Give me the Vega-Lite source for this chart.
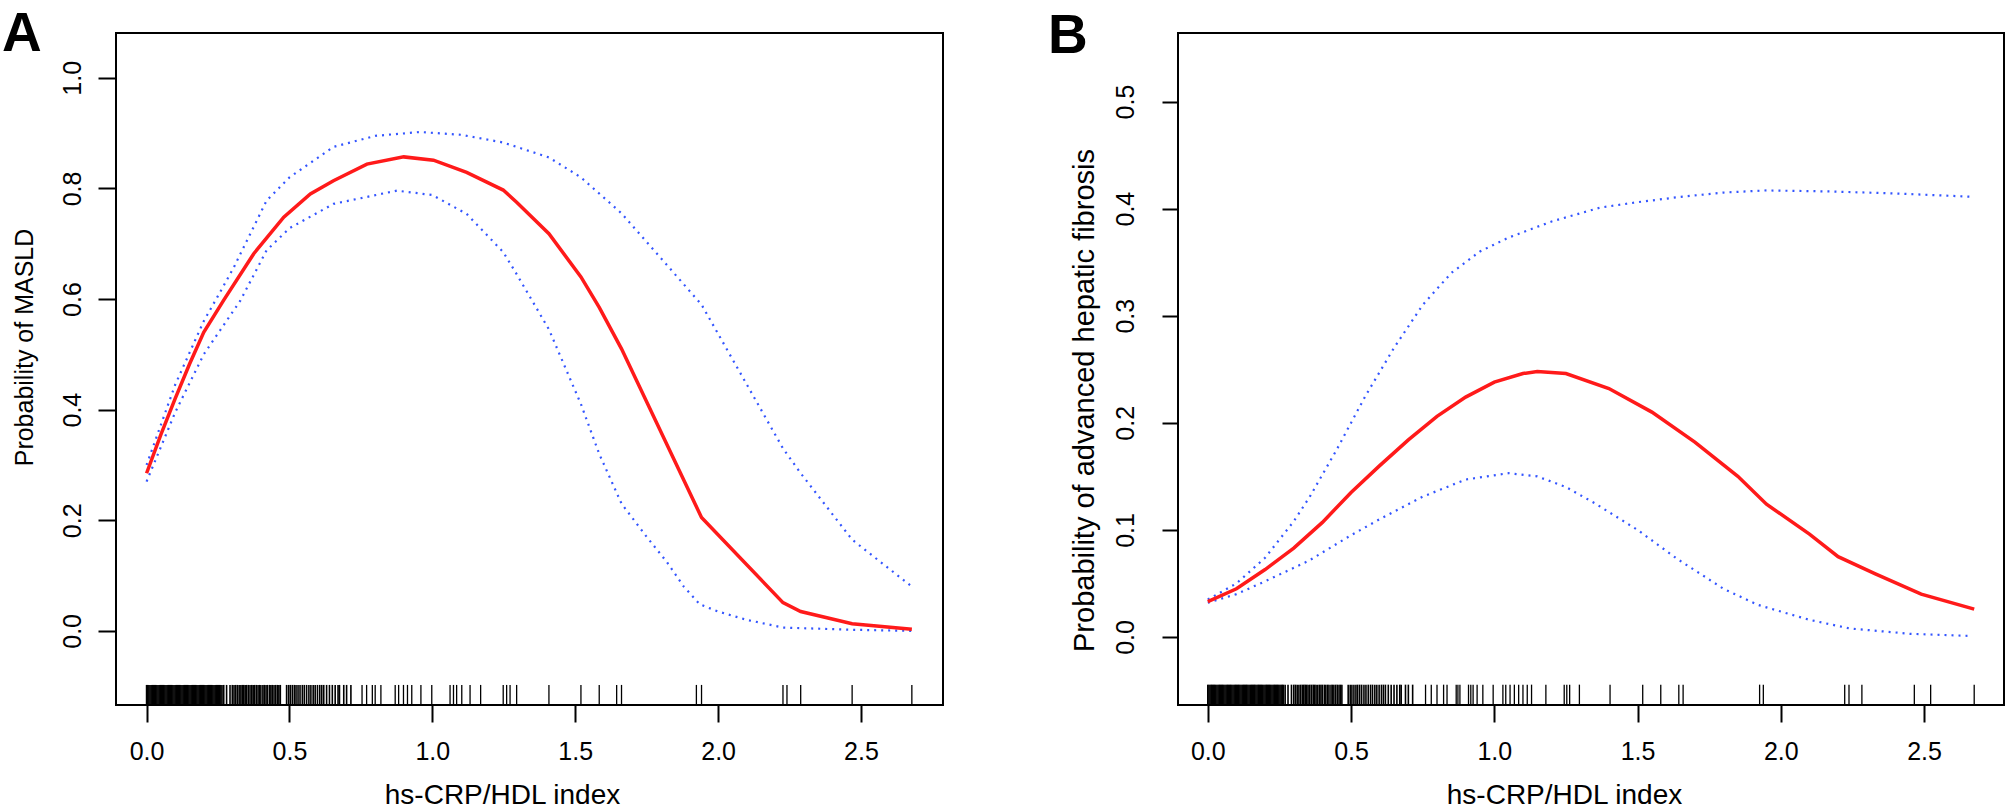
{
"$schema":"https://vega.github.io/schema/vega-lite/v6.json",
"background":"white",
"padding":{"left":1,"top":6,"right":0,"bottom":-2},
"spacing":235,
"bounds":"flush",
"config":{
 "view":{"stroke":"black","strokeWidth":2},
 "axis":{"grid":false,"domain":false,"tickColor":"black","tickWidth":2,"labelColor":"black","titleColor":"black","labelFont":"Liberation Sans","titleFont":"Liberation Sans","labelFontSize":25,"titleFontSize":28,"titleFontWeight":"normal","labelOverlap":false,"labelFlush":false}
},
"datasets":{
 "rugCore":[{"x":0},{"x":0.004},{"x":0.008},{"x":0.012},{"x":0.016},{"x":0.02},{"x":0.024},{"x":0.028},{"x":0.032},{"x":0.036},{"x":0.04},{"x":0.044},{"x":0.048},{"x":0.052},{"x":0.056},{"x":0.06},{"x":0.064},{"x":0.068},{"x":0.072},{"x":0.076},{"x":0.08},{"x":0.084},{"x":0.088},{"x":0.092},{"x":0.096},{"x":0.1},{"x":0.104},{"x":0.108},{"x":0.112},{"x":0.116},{"x":0.12},{"x":0.124},{"x":0.128},{"x":0.132},{"x":0.136},{"x":0.14},{"x":0.144},{"x":0.148},{"x":0.152},{"x":0.156},{"x":0.16},{"x":0.164},{"x":0.168},{"x":0.172},{"x":0.176},{"x":0.18},{"x":0.184},{"x":0.188},{"x":0.192},{"x":0.196},{"x":0.2},{"x":0.204},{"x":0.208},{"x":0.212},{"x":0.216},{"x":0.22},{"x":0.224},{"x":0.228},{"x":0.232},{"x":0.236},{"x":0.24},{"x":0.244},{"x":0.248},{"x":0.252},{"x":0.256},{"x":0.26},{"x":0.264},
 {"x":0.27},{"x":0.28},{"x":0.292},{"x":0.3},{"x":0.306},{"x":0.312},{"x":0.318},{"x":0.324},{"x":0.33},{"x":0.335},{"x":0.34},{"x":0.345},{"x":0.35},{"x":0.356},{"x":0.362},{"x":0.368},{"x":0.373},{"x":0.378},{"x":0.384},{"x":0.39},{"x":0.395},{"x":0.4},{"x":0.407},{"x":0.412},{"x":0.418},{"x":0.423},{"x":0.43},{"x":0.435},{"x":0.44},{"x":0.446},{"x":0.452},{"x":0.458},{"x":0.463},{"x":0.468},{"x":0.49},{"x":0.497},{"x":0.503},{"x":0.51},{"x":0.517},{"x":0.523},{"x":0.53},{"x":0.537},{"x":0.545},{"x":0.552},{"x":0.56},{"x":0.568},{"x":0.575},{"x":0.583},{"x":0.59},{"x":0.598},{"x":0.606},{"x":0.613},{"x":0.62},{"x":0.63},{"x":0.64},{"x":0.65},{"x":0.66},{"x":0.67},{"x":0.675},{"x":0.69},{"x":0.7},{"x":0.715}],
 "rugA":[{"x":0.754},{"x":0.77},{"x":0.79},{"x":0.8},{"x":0.82},{"x":0.87},{"x":0.882},{"x":0.899},{"x":0.913},{"x":0.928},{"x":0.96},{"x":0.998},{"x":1.062},{"x":1.074},{"x":1.085},{"x":1.103},{"x":1.132},{"x":1.169},{"x":1.248},{"x":1.26},{"x":1.272},{"x":1.295},{"x":1.408},{"x":1.52},{"x":1.584},{"x":1.645},{"x":1.662},{"x":1.924},{"x":1.942},{"x":2.227},{"x":2.241},{"x":2.289},{"x":2.469},{"x":2.678}],
 "rugB":[{"x":0.76},{"x":0.78},{"x":0.8},{"x":0.823},{"x":0.835},{"x":0.867},{"x":0.873},{"x":0.88},{"x":0.91},{"x":0.918},{"x":0.926},{"x":0.94},{"x":0.96},{"x":0.996},{"x":1.03},{"x":1.04},{"x":1.055},{"x":1.07},{"x":1.085},{"x":1.1},{"x":1.115},{"x":1.13},{"x":1.18},{"x":1.244},{"x":1.253},{"x":1.263},{"x":1.297},{"x":1.404},{"x":1.518},{"x":1.581},{"x":1.644},{"x":1.659},{"x":1.926},{"x":1.939},{"x":2.223},{"x":2.238},{"x":2.283},{"x":2.466},{"x":2.523},{"x":2.675}],
 "curvesA":[
  {"s":"est","x":0,"y":0.285},{"s":"est","x":0.05,"y":0.355},{"s":"est","x":0.1,"y":0.42},{"s":"est","x":0.15,"y":0.482},{"s":"est","x":0.2,"y":0.54},{"s":"est","x":0.27,"y":0.598},{"s":"est","x":0.375,"y":0.682},{"s":"est","x":0.48,"y":0.748},{"s":"est","x":0.573,"y":0.79},{"s":"est","x":0.654,"y":0.814},{"s":"est","x":0.771,"y":0.844},{"s":"est","x":0.9,"y":0.857},{"s":"est","x":1.004,"y":0.851},{"s":"est","x":1.12,"y":0.829},{"s":"est","x":1.248,"y":0.797},{"s":"est","x":1.295,"y":0.775},{"s":"est","x":1.408,"y":0.718},{"s":"est","x":1.52,"y":0.64},{"s":"est","x":1.584,"y":0.585},{"s":"est","x":1.662,"y":0.51},{"s":"est","x":1.942,"y":0.205},{"s":"est","x":2.227,"y":0.051},{"s":"est","x":2.289,"y":0.035},{"s":"est","x":2.469,"y":0.013},{"s":"est","x":2.678,"y":0.003},
  {"s":"upper","x":0,"y":0.3},{"s":"upper","x":0.1,"y":0.445},{"s":"upper","x":0.2,"y":0.56},{"s":"upper","x":0.247,"y":0.603},{"s":"upper","x":0.305,"y":0.657},{"s":"upper","x":0.42,"y":0.778},{"s":"upper","x":0.5,"y":0.82},{"s":"upper","x":0.654,"y":0.875},{"s":"upper","x":0.8,"y":0.895},{"s":"upper","x":0.957,"y":0.902},{"s":"upper","x":1.1,"y":0.897},{"s":"upper","x":1.248,"y":0.883},{"s":"upper","x":1.408,"y":0.856},{"s":"upper","x":1.52,"y":0.82},{"s":"upper","x":1.662,"y":0.755},{"s":"upper","x":1.942,"y":0.59},{"s":"upper","x":2.227,"y":0.33},{"s":"upper","x":2.289,"y":0.285},{"s":"upper","x":2.469,"y":0.165},{"s":"upper","x":2.678,"y":0.08},
  {"s":"lower","x":0,"y":0.27},{"s":"lower","x":0.1,"y":0.395},{"s":"lower","x":0.2,"y":0.5},{"s":"lower","x":0.328,"y":0.597},{"s":"lower","x":0.42,"y":0.688},{"s":"lower","x":0.5,"y":0.728},{"s":"lower","x":0.654,"y":0.772},{"s":"lower","x":0.876,"y":0.796},{"s":"lower","x":1.0,"y":0.788},{"s":"lower","x":1.12,"y":0.754},{"s":"lower","x":1.248,"y":0.685},{"s":"lower","x":1.295,"y":0.645},{"s":"lower","x":1.408,"y":0.545},{"s":"lower","x":1.52,"y":0.41},{"s":"lower","x":1.584,"y":0.32},{"s":"lower","x":1.662,"y":0.23},{"s":"lower","x":1.75,"y":0.17},{"s":"lower","x":1.82,"y":0.125},{"s":"lower","x":1.88,"y":0.08},{"s":"lower","x":1.936,"y":0.048},{"s":"lower","x":2.0,"y":0.035},{"s":"lower","x":2.1,"y":0.02},{"s":"lower","x":2.227,"y":0.006},{"s":"lower","x":2.469,"y":0.002},{"s":"lower","x":2.678,"y":0.0}
 ],
 "curvesB":[
  {"s":"est","x":0,"y":0.033},{"s":"est","x":0.1,"y":0.045},{"s":"est","x":0.2,"y":0.063},{"s":"est","x":0.3,"y":0.083},{"s":"est","x":0.4,"y":0.107},{"s":"est","x":0.5,"y":0.135},{"s":"est","x":0.6,"y":0.16},{"s":"est","x":0.7,"y":0.184},{"s":"est","x":0.8,"y":0.206},{"s":"est","x":0.9,"y":0.224},{"s":"est","x":1.0,"y":0.238},{"s":"est","x":1.1,"y":0.246},{"s":"est","x":1.15,"y":0.248},{"s":"est","x":1.25,"y":0.246},{"s":"est","x":1.4,"y":0.232},{"s":"est","x":1.55,"y":0.21},{"s":"est","x":1.7,"y":0.182},{"s":"est","x":1.85,"y":0.15},{"s":"est","x":1.95,"y":0.124},{"s":"est","x":2.1,"y":0.096},{"s":"est","x":2.2,"y":0.075},{"s":"est","x":2.33,"y":0.059},{"s":"est","x":2.49,"y":0.04},{"s":"est","x":2.675,"y":0.026},
  {"s":"upper","x":0,"y":0.035},{"s":"upper","x":0.1,"y":0.05},{"s":"upper","x":0.2,"y":0.074},{"s":"upper","x":0.3,"y":0.108},{"s":"upper","x":0.356,"y":0.131},{"s":"upper","x":0.45,"y":0.175},{"s":"upper","x":0.55,"y":0.225},{"s":"upper","x":0.65,"y":0.27},{"s":"upper","x":0.75,"y":0.31},{"s":"upper","x":0.85,"y":0.34},{"s":"upper","x":0.95,"y":0.36},{"s":"upper","x":1.05,"y":0.373},{"s":"upper","x":1.2,"y":0.388},{"s":"upper","x":1.37,"y":0.401},{"s":"upper","x":1.5,"y":0.406},{"s":"upper","x":1.65,"y":0.411},{"s":"upper","x":1.8,"y":0.415},{"s":"upper","x":1.95,"y":0.417},{"s":"upper","x":2.18,"y":0.416},{"s":"upper","x":2.415,"y":0.414},{"s":"upper","x":2.675,"y":0.411},
  {"s":"lower","x":0,"y":0.032},{"s":"lower","x":0.1,"y":0.04},{"s":"lower","x":0.2,"y":0.052},{"s":"lower","x":0.351,"y":0.071},{"s":"lower","x":0.5,"y":0.095},{"s":"lower","x":0.6,"y":0.11},{"s":"lower","x":0.75,"y":0.131},{"s":"lower","x":0.9,"y":0.147},{"s":"lower","x":1.05,"y":0.153},{"s":"lower","x":1.15,"y":0.15},{"s":"lower","x":1.25,"y":0.14},{"s":"lower","x":1.35,"y":0.125},{"s":"lower","x":1.5,"y":0.1},{"s":"lower","x":1.638,"y":0.073},{"s":"lower","x":1.8,"y":0.045},{"s":"lower","x":1.92,"y":0.03},{"s":"lower","x":2.1,"y":0.016},{"s":"lower","x":2.24,"y":0.008},{"s":"lower","x":2.45,"y":0.003},{"s":"lower","x":2.66,"y":0.001}
 ]
},
"hconcat":[
 {
  "width":827,"height":672,
  "title":{"text":"A","anchor":"start","frame":"group","dx":-114,"dy":33,"offset":-40,"baseline":"alphabetic","fontSize":55,"fontWeight":"bold","font":"Liberation Sans Narrow, Liberation Sans","color":"black"},
  "layer":[
   {"data":{"name":"rugCore"},"mark":{"type":"rule","color":"black","strokeWidth":1.6},
    "encoding":{
     "x":{"field":"x","type":"quantitative","title":"hs-CRP/HDL index","scale":{"domain":[-0.107,2.787],"nice":false,"zero":false},
      "axis":{"values":[0,0.5,1,1.5,2,2.5],"format":".1f","tickSize":17,"labelPadding":37,"labelBaseline":"alphabetic","labelAlign":"center","titleX":386,"titleY":98,"titleBaseline":"alphabetic","titleAlign":"center"}},
     "y":{"datum":-0.134,"type":"quantitative","title":"Probability of MASLD","scale":{"domain":[-0.134,1.081],"nice":false,"zero":false},
      "axis":{"values":[0,0.2,0.4,0.6,0.8,1.0],"format":".1f","tickSize":18,"labelPadding":18,"labelAngle":270,"labelAlign":"center","labelBaseline":"alphabetic","titleAngle":270,"titleAlign":"center","titleBaseline":"alphabetic","titleFontSize":25,"titleX":-84,"titleY":314}},
     "y2":{"datum":-0.0977}}},
   {"data":{"name":"rugA"},"mark":{"type":"rule","color":"black","strokeWidth":1.3},
    "encoding":{"x":{"field":"x","type":"quantitative","title":"hs-CRP/HDL index"},"y":{"datum":-0.134,"type":"quantitative","title":"Probability of MASLD"},"y2":{"datum":-0.0977}}},
   {"data":{"name":"curvesA"},"transform":[{"filter":"datum.s !== 'est'"}],"mark":{"type":"line","color":"#3355ff","strokeWidth":2.2,"strokeDash":[2,5]},
    "encoding":{"x":{"field":"x","type":"quantitative","title":"hs-CRP/HDL index"},"y":{"field":"y","type":"quantitative","title":"Probability of MASLD"},"detail":{"field":"s"}}},
   {"data":{"name":"curvesA"},"transform":[{"filter":"datum.s === 'est'"}],"mark":{"type":"line","color":"#ff1a1a","strokeWidth":3.5},
    "encoding":{"x":{"field":"x","type":"quantitative","title":"hs-CRP/HDL index"},"y":{"field":"y","type":"quantitative","title":"Probability of MASLD"}}}
  ]
 },
 {
  "width":826,"height":672,
  "title":{"text":"B","anchor":"start","frame":"group","dx":-130,"dy":35,"offset":-40,"baseline":"alphabetic","fontSize":55,"fontWeight":"bold","font":"Liberation Sans Narrow, Liberation Sans","color":"black"},
  "layer":[
   {"data":{"name":"rugCore"},"mark":{"type":"rule","color":"black","strokeWidth":1.6},
    "encoding":{
     "x":{"field":"x","type":"quantitative","title":"hs-CRP/HDL index","scale":{"domain":[-0.104,2.779],"nice":false,"zero":false},
      "axis":{"values":[0,0.5,1,1.5,2,2.5],"format":".1f","tickSize":17,"labelPadding":37,"labelBaseline":"alphabetic","labelAlign":"center","titleX":386,"titleY":98,"titleBaseline":"alphabetic","titleAlign":"center"}},
     "y":{"datum":-0.0635,"type":"quantitative","title":"Probability of advanced hepatic fibrosis","scale":{"domain":[-0.0635,0.564],"nice":false,"zero":false},
      "axis":{"values":[0,0.1,0.2,0.3,0.4,0.5],"format":".1f","tickSize":16,"labelPadding":29,"labelAngle":270,"labelAlign":"center","labelBaseline":"alphabetic","titleAngle":270,"titleAlign":"center","titleBaseline":"alphabetic","titleFontSize":29,"titleX":-85,"titleY":367}},
     "y2":{"datum":-0.0445}}},
   {"data":{"name":"rugB"},"mark":{"type":"rule","color":"black","strokeWidth":1.3},
    "encoding":{"x":{"field":"x","type":"quantitative","title":"hs-CRP/HDL index"},"y":{"datum":-0.0635,"type":"quantitative","title":"Probability of advanced hepatic fibrosis"},"y2":{"datum":-0.0445}}},
   {"data":{"name":"curvesB"},"transform":[{"filter":"datum.s !== 'est'"}],"mark":{"type":"line","color":"#3355ff","strokeWidth":2.2,"strokeDash":[2,5]},
    "encoding":{"x":{"field":"x","type":"quantitative","title":"hs-CRP/HDL index"},"y":{"field":"y","type":"quantitative","title":"Probability of advanced hepatic fibrosis"},"detail":{"field":"s"}}},
   {"data":{"name":"curvesB"},"transform":[{"filter":"datum.s === 'est'"}],"mark":{"type":"line","color":"#ff1a1a","strokeWidth":3.5},
    "encoding":{"x":{"field":"x","type":"quantitative","title":"hs-CRP/HDL index"},"y":{"field":"y","type":"quantitative","title":"Probability of advanced hepatic fibrosis"}}}
  ]
 }
]
}
